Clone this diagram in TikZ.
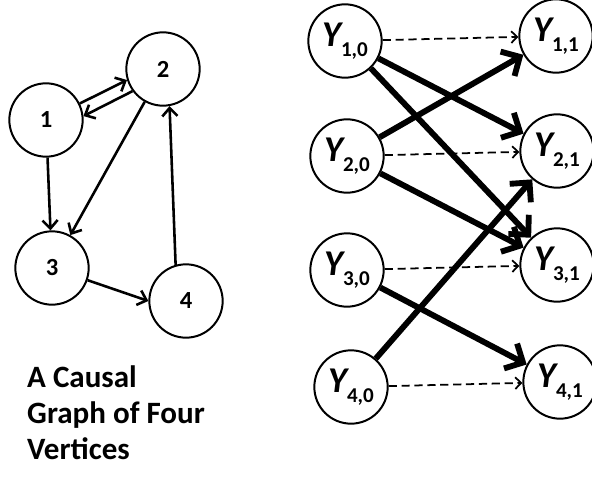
\documentclass[tikz,border=0pt]{standalone}
\usepackage{fontspec}
\setmainfont{Carlito}
\usetikzlibrary{arrows.meta}

\newcommand{\yvar}[2]{{\fontsize{31}{31}\selectfont\bfseries\itshape Y}%
  \raisebox{-8.5pt}{\fontsize{18}{18}\selectfont\bfseries #1,#2}}

\begin{document}
\begin{tikzpicture}[x=0.03cm,y=-0.03cm,
  >={Straight Barb[length=7pt,width=13pt]},
  main node/.style={circle,fill=white,draw,line width=1.7pt,minimum size=2.2cm,
    inner sep=0pt,font=\fontsize{21}{21}\selectfont\bfseries},
  time node/.style={circle,fill=white,draw,line width=1.7pt,minimum size=2.2cm,inner sep=0pt},
  graph edge/.style={->,line width=2.2pt},
  cause edge/.style={->,line width=5pt,>={Straight Barb[length=12pt,width=24pt]}},
  copy edge/.style={->,line width=1.5pt,dash pattern=on 7pt off 4pt,
    >={Straight Barb[length=5pt,width=10pt]}},
  caption/.style={align=left,inner sep=0pt,font=\fontsize{26.5}{31}\selectfont\bfseries}]

  \useasboundingbox (0,0) rectangle (592,479);

  % causal graph
  \node[main node] (1) at (46,120) {1};
  \node[main node] (2) at (163,69) {2};
  \node[main node] (3) at (52,268) {3};
  \node[main node] (4) at (186,301) {4};

  \path[graph edge]
    (1.26) edge (2.197)
    (2.216) edge (1.6)
    (1) edge (3)
    (2) edge (3)
    (3) edge (4.west)
    (4.106) edge (2.280);

  \node[caption,anchor=north west] (title) at (27,365) {A Causal\\Graph of Four\\Vertices};

  % unrolled graph
  \node[time node] (y10) at (345,41) {\yvar{1}{0}};
  \node[time node] (y20) at (347,156) {\yvar{2}{0}};
  \node[time node] (y30) at (347,270) {\yvar{3}{0}};
  \node[time node] (y40) at (351,387) {\yvar{4}{0}};
  \node[time node] (y11) at (556,36) {\yvar{1}{1}};
  \node[time node] (y21) at (557,151) {\yvar{2}{1}};
  \node[time node] (y31) at (557,265) {\yvar{3}{1}};
  \node[time node] (y41) at (560,382) {\yvar{4}{1}};

  \path[copy edge]
    (y10) edge (y11)
    (y20) edge (y21)
    (y30) edge (y31)
    (y40) edge (y41);

  \path[cause edge]
    (y10) edge (y21)
          edge (y31)
    (y20) edge (y11)
          edge (y31)
    (y30) edge (y41)
    (y40) edge (y21);
\end{tikzpicture}
\end{document}
